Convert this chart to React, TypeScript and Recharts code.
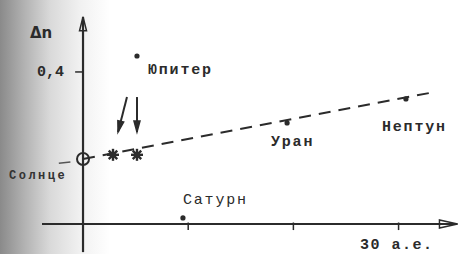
import React from 'react';
import {
  ComposedChart,
  Line,
  Scatter,
  XAxis,
  YAxis,
  ReferenceLine,
} from 'recharts';

// planets, distance in a.u. and Δn
const planetNames = ['Юпитер', 'Сатурн', 'Уран', 'Нептун'];
const planetDist = [5.13, 9.5, 19.4, 30.7];
const planetDn = [0.442, 0.016, 0.266, 0.329];

const sunDist = [0];
const sunDn = [0.171];

const starDist = [2.85, 5.13];
const starDn = [0.182, 0.182];

const trendDist = [0, 33.0];
const trendDn = [0.171, 0.345];

const xTicks = [10, 20, 30];
const yTicks = [0.4];

const toPoints = (xs: number[], ys: number[]) => xs.map((x, i) => ({ x, y: ys[i] }));

const planets = planetNames.map((name, i) => ({ name, x: planetDist[i], y: planetDn[i] }));
const sun = toPoints(sunDist, sunDn);
const stars = toPoints(starDist, starDn);
const trend = toPoints(trendDist, trendDn);

const INK = '#2b2b2b';

const arrowShape = (len: number, half: number, filled: boolean, width: number) => (p: any) => {
  const { x1, y1, x2, y2 } = p;
  const a = Math.atan2(y2 - y1, x2 - x1);
  const bx = x2 - len * Math.cos(a);
  const by = y2 - len * Math.sin(a);
  const nx = -Math.sin(a) * half;
  const ny = Math.cos(a) * half;
  return (
    <g>
      <line x1={x1} y1={y1} x2={x2} y2={y2} stroke={INK} strokeWidth={width} />
      <polygon
        points={`${x2},${y2} ${bx + nx},${by + ny} ${bx - nx},${by - ny}`}
        fill={filled ? INK : 'none'}
        stroke={INK}
        strokeWidth={1.5}
        strokeLinejoin="miter"
      />
    </g>
  );
};

const Dot = (p: any) => <circle cx={p.cx} cy={p.cy} r={2.6} fill={INK} />;
const SunMark = (p: any) => (
  <g>
    <circle cx={p.cx} cy={p.cy} r={6} fill="none" stroke={INK} strokeWidth={2} />
    <line x1={p.cx} y1={p.cy - 6} x2={p.cx} y2={p.cy + 6} stroke={INK} strokeWidth={1.5} />
  </g>
);
const StarMark = (p: any) => {
  const r = 6;
  const lines = [0, 45, 90, 135].map((deg) => {
    const a = (deg * Math.PI) / 180;
    return (
      <line
        key={deg}
        x1={p.cx - r * Math.cos(a)}
        y1={p.cy - r * Math.sin(a)}
        x2={p.cx + r * Math.cos(a)}
        y2={p.cy + r * Math.sin(a)}
        stroke={INK}
        strokeWidth={2.4}
      />
    );
  });
  return (
    <g>
      {lines}
      <circle cx={p.cx} cy={p.cy} r={3} fill={INK} />
    </g>
  );
};

const textStyle: React.CSSProperties = {
  position: 'absolute',
  fontFamily: '"Liberation Mono", "DejaVu Sans Mono", monospace',
  fontSize: 15,
  fontWeight: 'bold',
  letterSpacing: 1.8,
  color: INK,
  transform: 'translateY(-50%)',
  whiteSpace: 'nowrap',
  lineHeight: 1,
};

export default function App() {
  return (
    <div
      style={{
        position: 'absolute',
        left: 0,
        top: 0,
        width: 466,
        height: 254,
        overflow: 'hidden',
        background:
          'linear-gradient(to right, #8a8a8a 0px, #b3b3b3 25px, #d9d9d9 50px, #f1f1f1 80px, #ffffff 110px)',
      }}
    >
      <ComposedChart
        width={466}
        height={254}
        margin={{ top: 10, right: 8, bottom: 9, left: 42 }}
      >
        <XAxis type="number" dataKey="x" domain={[-3.9, 35.65]} hide allowDataOverflow />
        <YAxis type="number" dataKey="y" domain={[-0.0553, 0.563]} hide allowDataOverflow />

        {/* axes */}
        <ReferenceLine
          segment={[{ x: -3.9, y: 0 }, { x: 35.6, y: 0 }]}
          ifOverflow="visible"
          shape={arrowShape(18, 4, false, 2.2)}
        />
        <ReferenceLine
          segment={[{ x: 0, y: -0.074 }, { x: 0, y: 0.545 }]}
          ifOverflow="visible"
          shape={arrowShape(14, 3.5, false, 2.2)}
        />
        {xTicks.map((t) => (
          <ReferenceLine
            key={t}
            segment={[{ x: t, y: 0.004 }, { x: t, y: -0.016 }]}
            ifOverflow="visible"
            stroke={INK}
            strokeWidth={1.5}
          />
        ))}
        {yTicks.map((t) => (
          <ReferenceLine
            key={t}
            segment={[{ x: -0.75, y: t }, { x: 0, y: t }]}
            ifOverflow="visible"
            stroke={INK}
            strokeWidth={1.5}
          />
        ))}

        {/* leader near the Sun label */}
        <ReferenceLine
          segment={[{ x: -2.3, y: 0.16 }, { x: -1.2, y: 0.163 }]}
          ifOverflow="visible"
          stroke="#555"
          strokeWidth={1.5}
        />

        {/* arrows pointing to the asterisks */}
        <ReferenceLine
          segment={[{ x: 4.18, y: 0.334 }, { x: 3.33, y: 0.242 }]}
          ifOverflow="visible"
          shape={arrowShape(11, 3, true, 2)}
        />
        <ReferenceLine
          segment={[{ x: 5.13, y: 0.334 }, { x: 5.13, y: 0.242 }]}
          ifOverflow="visible"
          shape={arrowShape(11, 3, true, 2)}
        />

        <Line
          data={trend}
          dataKey="y"
          type="linear"
          stroke={INK}
          strokeWidth={2}
          strokeDasharray="12 8"
          dot={false}
          activeDot={false}
          isAnimationActive={false}
        />
        <Scatter data={sun} shape={SunMark} isAnimationActive={false} />
        <Scatter data={stars} shape={StarMark} isAnimationActive={false} />
        <Scatter data={planets} shape={Dot} isAnimationActive={false} />
      </ComposedChart>

      <div style={{ ...textStyle, left: 30, top: 33, fontFamily: '"DejaVu Sans", sans-serif', fontSize: 15, letterSpacing: 0 }}>
        Δn
      </div>
      <div style={{ ...textStyle, left: 37, top: 72, letterSpacing: 0 }}>0,4</div>
      <div style={{ ...textStyle, left: 148, top: 70 }}>{planetNames[0]}</div>
      <div style={{ ...textStyle, left: 183, top: 200, fontWeight: 'normal' }}>{planetNames[1]}</div>
      <div style={{ ...textStyle, left: 271, top: 142 }}>{planetNames[2]}</div>
      <div style={{ ...textStyle, left: 382, top: 127 }}>{planetNames[3]}</div>
      <div style={{ ...textStyle, left: 360, top: 245, letterSpacing: 1.5 }}>30 а.е.</div>
      <div style={{ ...textStyle, left: 9, top: 176, fontSize: 12, letterSpacing: 2.5, color: '#333' }}>
        Солнце
      </div>
    </div>
  );
}
